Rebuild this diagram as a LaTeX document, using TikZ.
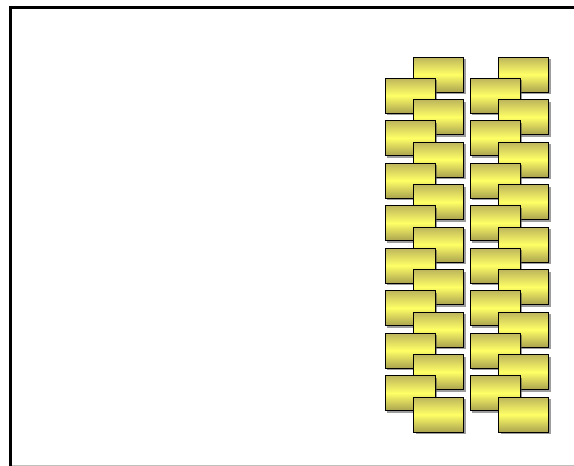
\documentclass[tikz,border=0pt]{standalone}
\usetikzlibrary{shadows}
\definecolor{boxtop}{HTML}{BDB55C}
\definecolor{boxmid}{HTML}{FFFF66}
\definecolor{boxbot}{HTML}{ABA350}
\tikzset{
  ybox/.style={draw=black, line width=0.9pt, rectangle, minimum width=50pt, minimum height=35pt,
    inner sep=0pt, outer sep=0pt, top color=boxtop, bottom color=boxbot, middle color=boxmid,
    drop shadow={shadow xshift=2pt, shadow yshift=-2pt, opacity=0.55, fill=black!70}},
  frameline/.style={line width=3pt, black},
  baseline/.style={line width=1pt, black!25}
}
\begin{document}
\begin{tikzpicture}[x=1pt,y=-1pt]
\useasboundingbox (0,0) rectangle (574,466);
\coordinate (tl) at (10.5,7.5);
\coordinate (tr) at (574,7.5);
\coordinate (bl) at (10.5,466);
\coordinate (bl2) at (10.5,465.5);
\coordinate (br) at (574,465.5);
\draw[baseline] (bl2) -- (br);
\draw[frameline] (tr) -- (tl) -- (bl);
\foreach \c/\dx in {a/0,b/85}{
  \foreach \i in {0,...,8}{
    \node[ybox] (\c r\i) at (438.5+\dx, 74.5+42.5*\i) {};
    \ifnum\i<8
      \node[ybox] (\c l\i) at (410+\dx, 95.5+42.5*\i) {};
    \fi
  }
}
\end{tikzpicture}
\end{document}
